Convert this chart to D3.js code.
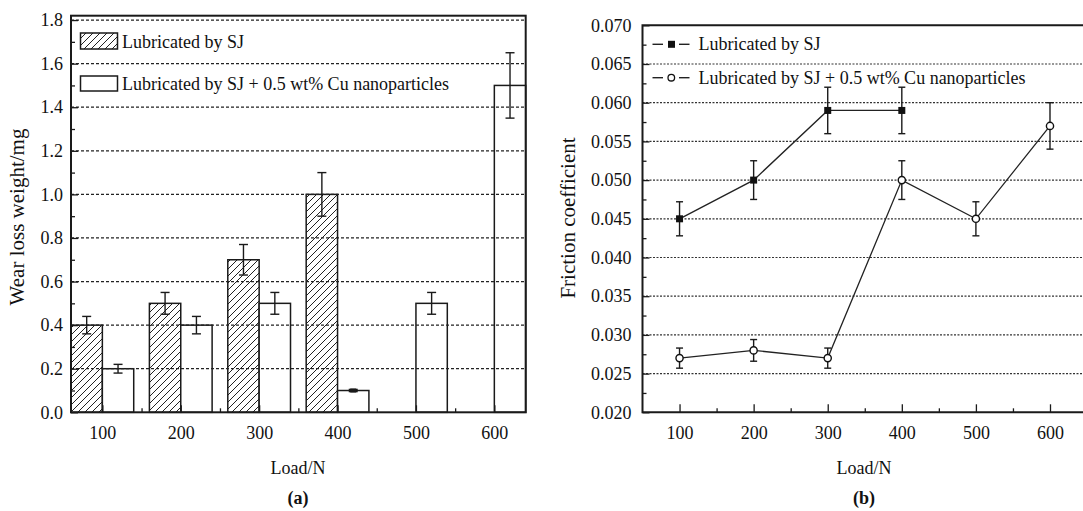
<!DOCTYPE html>
<html>
<head>
<meta charset="utf-8">
<script src="https://cdn.jsdelivr.net/npm/d3@7/dist/d3.min.js"></script>
<style>
  html, body { margin: 0; padding: 0; background: #fff; }
  svg { display: block; }
  text { font-family: "Liberation Serif", "Times New Roman", serif; fill: #111; }
</style>
</head>
<body>
<svg id="chart" width="1083" height="511"></svg>
<script>
// ---------- data ----------
const loads = [100, 200, 300, 400, 500, 600];
const wearSJ = [0.4, 0.5, 0.7, 1.0, null, null];
const wearSJErr = [0.04, 0.05, 0.07, 0.1, null, null];
const wearCu = [0.2, 0.4, 0.5, 0.1, 0.5, 1.5];
const wearCuErr = [0.02, 0.04, 0.05, 0.005, 0.05, 0.15];
const wearTicks = [0, 0.2, 0.4, 0.6, 0.8, 1.0, 1.2, 1.4, 1.6, 1.8];
const wearMinor = [0.1, 0.3, 0.5, 0.7, 0.9, 1.1, 1.3, 1.5, 1.7];

const fricLoadsSJ = [100, 200, 300, 400];
const fricSJ = [0.045, 0.050, 0.059, 0.059];
const fricSJErr = [0.0022, 0.0025, 0.003, 0.003];
const fricLoadsCu = [100, 200, 300, 400, 500, 600];
const fricCu = [0.027, 0.028, 0.027, 0.050, 0.045, 0.057];
const fricCuErr = [0.0013, 0.0014, 0.0013, 0.0025, 0.0022, 0.003];
const fricTicks = [0.020, 0.025, 0.030, 0.035, 0.040, 0.045, 0.050, 0.055, 0.060, 0.065, 0.070];
const fricMinor = [0.0225, 0.0275, 0.0325, 0.0375, 0.0425, 0.0475, 0.0525, 0.0575, 0.0625, 0.0675];

const loadMinor = [50, 150, 250, 350, 450, 550, 650];
const seriesLabels = ["Lubricated by SJ", "Lubricated by SJ + 0.5 wt% Cu nanoparticles"];
const xTitle = "Load/N";
const yTitleA = "Wear loss weight/mg";
const yTitleB = "Friction coefficient";
const panelLabels = ["(a)", "(b)"];

// ---------- setup ----------
const svg = d3.select("#chart");
svg.append("rect").attr("width", 1083).attr("height", 511).attr("fill", "#fff");
const defs = svg.append("defs");
const pat = defs.append("pattern").attr("id", "hatch")
  .attr("patternUnits", "userSpaceOnUse").attr("width", 7).attr("height", 7);
pat.append("rect").attr("width", 7).attr("height", 7).attr("fill", "#fff");
pat.append("path").attr("d", "M-1,1 l2,-2 M0,7 l7,-7 M6,8 l2,-2")
  .attr("stroke", "#222").attr("stroke-width", 1);

const INK = "#1a1a1a";
const FS = 18;

// ================= Panel (a) =================
const A = { l: 71, r: 525.7, t: 15.7, b: 412.3 };
const xa = d3.scaleLinear().domain([60, 640]).range([A.l, A.r]);
const ya = d3.scaleLinear().domain([0, 1.82]).range([A.b, A.t]);
const gA = svg.append("g");
const barW = 40; // in load units

// bars SJ (hatched)
gA.append("g").selectAll("rect").data(loads.map((l, i) => ({ l, v: wearSJ[i], e: wearSJErr[i] })).filter(d => d.v != null))
  .join("rect")
  .attr("x", d => xa(d.l - barW)).attr("width", d => xa(d.l) - xa(d.l - barW))
  .attr("y", d => ya(d.v)).attr("height", d => ya(0) - ya(d.v))
  .attr("fill", "url(#hatch)").attr("stroke", INK).attr("stroke-width", 1.5);
// bars Cu (white)
gA.append("g").selectAll("rect").data(loads.map((l, i) => ({ l, v: wearCu[i], e: wearCuErr[i] })))
  .join("rect")
  .attr("x", d => xa(d.l)).attr("width", d => xa(d.l + barW) - xa(d.l))
  .attr("y", d => ya(d.v)).attr("height", d => ya(0) - ya(d.v))
  .attr("fill", "#fff").attr("stroke", INK).attr("stroke-width", 1.5);

// grid lines (drawn over bars)
gA.append("g").selectAll("line").data(wearTicks.filter(t => t > 0)).join("line")
  .attr("x1", A.l).attr("x2", A.r).attr("y1", d => ya(d)).attr("y2", d => ya(d))
  .attr("stroke", "#222").attr("stroke-width", 1.2).attr("stroke-dasharray", "3,2");

// error bars
function errBars(g, data, xs, ys, cap) {
  const eg = g.append("g").attr("stroke", INK).attr("stroke-width", 1.4);
  data.forEach(d => {
    const x = xs(d.x);
    eg.append("line").attr("x1", x).attr("x2", x).attr("y1", ys(d.v - d.e)).attr("y2", ys(d.v + d.e));
    [d.v - d.e, d.v + d.e].forEach(v => eg.append("line")
      .attr("x1", x - cap / 2).attr("x2", x + cap / 2).attr("y1", ys(v)).attr("y2", ys(v)));
  });
}
errBars(gA, loads.map((l, i) => ({ x: l - barW / 2, v: wearSJ[i], e: wearSJErr[i] })).filter(d => d.v != null), xa, ya, 9);
errBars(gA, loads.map((l, i) => ({ x: l + barW / 2, v: wearCu[i], e: wearCuErr[i] })), xa, ya, 9);
// small filled marker where error is tiny
gA.append("rect").attr("x", xa(400 + barW / 2) - 3).attr("y", ya(wearCu[3]) - 2).attr("width", 6).attr("height", 4).attr("fill", INK);

// axes (a)
const yAxA = d3.axisLeft(ya).tickValues(wearTicks).tickFormat(d3.format(".1f")).tickSize(-7).tickPadding(8);
const gyA = gA.append("g").attr("transform", `translate(${A.l},0)`).call(yAxA);
const yAxAm = d3.axisLeft(ya).tickValues(wearMinor).tickFormat("").tickSize(-4);
const gyAm = gA.append("g").attr("transform", `translate(${A.l},0)`).call(yAxAm);
const xAxA = d3.axisBottom(xa).tickValues(loads).tickFormat(d3.format("d")).tickSize(-7).tickPadding(13.5);
const gxA = gA.append("g").attr("transform", `translate(0,${A.b})`).call(xAxA);
const xAxAm = d3.axisBottom(xa).tickValues(loadMinor.filter(v => v > 60 && v < 640)).tickFormat("").tickSize(-4);
const gxAm = gA.append("g").attr("transform", `translate(0,${A.b})`).call(xAxAm);
[gyA, gyAm, gxA, gxAm].forEach(g => {
  g.select(".domain").remove();
  g.selectAll("line").attr("stroke", INK).attr("stroke-width", 1.3);
  g.selectAll("text").attr("font-size", FS).attr("font-family", "Liberation Serif").attr("fill", "#111");
});

// frame (a)
gA.append("rect").attr("x", A.l).attr("y", A.t).attr("width", A.r - A.l).attr("height", A.b - A.t)
  .attr("fill", "none").attr("stroke", INK).attr("stroke-width", 2);

// legend (a)
const legA = gA.append("g");
legA.append("rect").attr("x", 80.5).attr("y", 33).attr("width", 37).attr("height", 16)
  .attr("fill", "url(#hatch)").attr("stroke", INK).attr("stroke-width", 1.5);
legA.append("rect").attr("x", 80.5).attr("y", 76).attr("width", 37).attr("height", 15)
  .attr("fill", "#fff").attr("stroke", INK).attr("stroke-width", 1.5);
legA.append("text").attr("x", 122).attr("y", 48).attr("font-size", FS).text(seriesLabels[0]);
legA.append("text").attr("x", 122).attr("y", 90).attr("font-size", FS).text(seriesLabels[1]);

// titles (a)
gA.append("text").attr("transform", `translate(24,217) rotate(-90)`).attr("text-anchor", "middle")
  .attr("font-size", 21).text(yTitleA);
gA.append("text").attr("x", 298).attr("y", 474).attr("text-anchor", "middle").attr("font-size", FS).text(xTitle);
gA.append("text").attr("x", 298).attr("y", 504).attr("text-anchor", "middle").attr("font-size", FS)
  .attr("font-weight", "bold").text(panelLabels[0]);

// ================= Panel (b) =================
const B = { l: 642.5, t: 25.3, b: 412.3 };
const xb = d3.scaleLinear().domain([50, 700]).range([B.l, B.l + 650 * 0.7409]);
const yb = d3.scaleLinear().domain([0.020, 0.070]).range([B.b, B.t]);
const gB = svg.append("g");

// grid
gB.append("g").selectAll("line").data(fricTicks.filter(t => t > 0.0201 && t < 0.0699)).join("line")
  .attr("x1", B.l).attr("x2", xb(700)).attr("y1", d => yb(d)).attr("y2", d => yb(d))
  .attr("stroke", "#333").attr("stroke-width", 1.2).attr("stroke-dasharray", "2,1.5");

// axes (b)
const yAxB = d3.axisLeft(yb).tickValues(fricTicks).tickFormat(d3.format(".3f")).tickSize(-7).tickPadding(11);
const gyB = gB.append("g").attr("transform", `translate(${B.l},0)`).call(yAxB);
const yAxBm = d3.axisLeft(yb).tickValues(fricMinor).tickFormat("").tickSize(-4);
const gyBm = gB.append("g").attr("transform", `translate(${B.l},0)`).call(yAxBm);
const xAxB = d3.axisBottom(xb).tickValues(loads).tickFormat(d3.format("d")).tickSize(-8).tickPadding(13.5);
const gxB = gB.append("g").attr("transform", `translate(0,${B.b})`).call(xAxB);
const xAxBm = d3.axisBottom(xb).tickValues(loadMinor.filter(v => v > 50)).tickFormat("").tickSize(-4);
const gxBm = gB.append("g").attr("transform", `translate(0,${B.b})`).call(xAxBm);
[gyB, gyBm, gxB, gxBm].forEach(g => {
  g.select(".domain").remove();
  g.selectAll("line").attr("stroke", INK).attr("stroke-width", 1.3);
  g.selectAll("text").attr("font-size", FS).attr("font-family", "Liberation Serif").attr("fill", "#111");
});

// frame (b)
gB.append("path")
  .attr("d", `M${xb(700)},${B.t} H${B.l} V${B.b} H${xb(700)}`)
  .attr("fill", "none").attr("stroke", INK).attr("stroke-width", 2);

// lines
const line = d3.line().x(d => xb(d.x)).y(d => yb(d.v));
const sjData = fricLoadsSJ.map((l, i) => ({ x: l, v: fricSJ[i], e: fricSJErr[i] }));
const cuData = fricLoadsCu.map((l, i) => ({ x: l, v: fricCu[i], e: fricCuErr[i] }));
gB.append("path").datum(sjData).attr("d", line).attr("fill", "none").attr("stroke", "#222").attr("stroke-width", 1.3);
gB.append("path").datum(cuData).attr("d", line).attr("fill", "none").attr("stroke", "#222").attr("stroke-width", 1.3);
errBars(gB, sjData, xb, yb, 7);
errBars(gB, cuData, xb, yb, 7);
gB.append("g").selectAll("rect").data(sjData).join("rect")
  .attr("x", d => xb(d.x) - 3.5).attr("y", d => yb(d.v) - 3.5).attr("width", 7).attr("height", 7).attr("fill", "#111");
gB.append("g").selectAll("circle").data(cuData).join("circle")
  .attr("cx", d => xb(d.x)).attr("cy", d => yb(d.v)).attr("r", 3.6)
  .attr("fill", "#fff").attr("stroke", "#111").attr("stroke-width", 1.4);

// legend (b)
const legB = gB.append("g");
[44.3, 77.7].forEach((y, i) => {
  legB.append("line").attr("x1", 652.5).attr("x2", 663).attr("y1", y).attr("y2", y).attr("stroke", "#222").attr("stroke-width", 1.4);
  legB.append("line").attr("x1", 679).attr("x2", 689.5).attr("y1", y).attr("y2", y).attr("stroke", "#222").attr("stroke-width", 1.4);
  if (i === 0) legB.append("rect").attr("x", 668).attr("y", y - 3.5).attr("width", 7).attr("height", 7).attr("fill", "#111");
  else legB.append("circle").attr("cx", 671.3).attr("cy", y).attr("r", 3.3).attr("fill", "#fff").attr("stroke", "#111").attr("stroke-width", 1.3);
  legB.append("text").attr("x", 698.5).attr("y", y + 6).attr("font-size", FS).text(seriesLabels[i]);
});

// titles (b)
gB.append("text").attr("transform", `translate(575,218) rotate(-90)`).attr("text-anchor", "middle")
  .attr("font-size", 21).text(yTitleB);
gB.append("text").attr("x", 864).attr("y", 474).attr("text-anchor", "middle").attr("font-size", FS).text(xTitle);
gB.append("text").attr("x", 864).attr("y", 504).attr("text-anchor", "middle").attr("font-size", FS)
  .attr("font-weight", "bold").text(panelLabels[1]);
</script>
</body>
</html>
